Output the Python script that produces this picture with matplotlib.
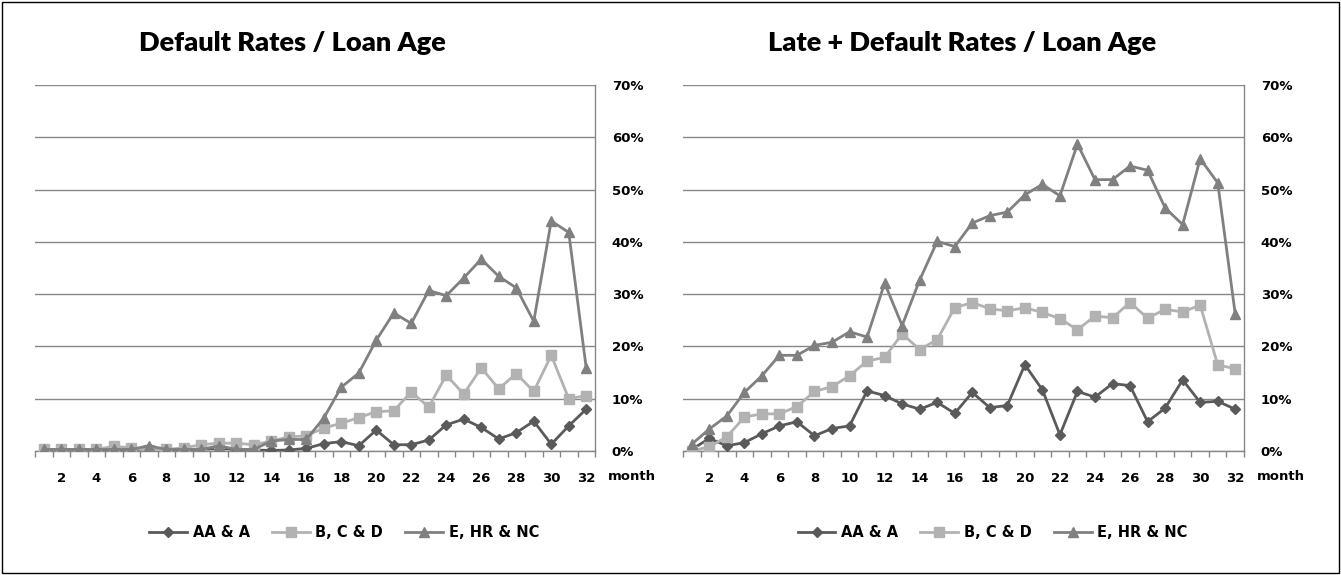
"""
Default rates and late + default rates by loan age, two panels side by side
"""

import matplotlib.pyplot as plt
from matplotlib.patches import Rectangle
from matplotlib.ticker import FuncFormatter, MultipleLocator

months = list(range(1, 33))
series_names = ['AA & A', 'B, C & D', 'E, HR & NC']

# default rates (%) per grade group
default_aa = [0.2, 0.2, 0.2, 0.2, 0.2, 0.2, 0.5, 0.2, 0.2, 0.3, 0.5, 0.3, 0.2, 0.1, 0.2, 0.5,
              1.4, 1.8, 1.0, 4.0, 1.2, 1.2, 2.1, 5.0, 6.1, 4.5, 2.3, 3.5, 5.7, 1.3, 4.8, 8.0]
default_bcd = [0.3, 0.3, 0.3, 0.3, 0.9, 0.6, 0.2, 0.3, 0.6, 1.2, 1.5, 1.5, 1.2, 1.9, 2.7, 2.9,
               4.4, 5.3, 6.4, 7.5, 7.7, 11.3, 8.4, 14.5, 10.9, 15.9, 11.9, 14.8, 11.4, 18.3, 10.0, 10.6]
default_ehr = [0.3, 0.3, 0.3, 0.3, 0.3, 0.3, 1.0, 0.3, 0.3, 0.3, 1.0, 0.3, 0.3, 1.9, 2.2, 2.2,
               6.3, 12.2, 14.9, 21.2, 26.4, 24.4, 30.7, 29.7, 33.1, 36.7, 33.4, 31.2, 24.8, 44.0, 41.8, 15.8]

# late + default rates (%)
late_aa = [0.3, 2.4, 1.0, 1.6, 3.3, 4.8, 5.6, 2.9, 4.3, 4.8, 11.5, 10.6, 9.0, 8.0, 9.3, 7.2,
           11.2, 8.3, 8.7, 16.5, 11.7, 3.1, 11.4, 10.3, 12.9, 12.5, 5.6, 8.2, 13.6, 9.3, 9.5, 8.0]
late_bcd = [0.0, 0.8, 2.7, 6.5, 7.1, 7.1, 8.5, 11.4, 12.3, 14.4, 17.2, 17.9, 22.4, 19.4, 21.3, 27.4,
            28.4, 27.2, 26.8, 27.4, 26.5, 25.3, 23.2, 25.8, 25.5, 28.4, 25.4, 27.1, 26.6, 27.9, 16.5, 15.7]
late_ehr = [1.3, 4.2, 6.7, 11.2, 14.4, 18.3, 18.3, 20.2, 20.8, 22.8, 21.8, 32.1, 24.0, 32.7, 40.1, 39.1,
            43.6, 45.0, 45.7, 49.0, 51.0, 48.8, 58.7, 51.9, 51.9, 54.5, 53.7, 46.5, 43.3, 55.9, 51.3, 26.2]

colors = ['#5a5a5a', '#b2b2b2', '#808080']
markers = ['D', 's', '^']
marker_sizes = [5.5, 7, 7.5]
grid_color = '#878787'


def draw_panel(ax, values, title, title_x, title_size):
    for vals, name, c, m, ms in zip(values, series_names, colors, markers, marker_sizes):
        ax.plot(months, [v / 100 for v in vals], color=c, lw=2, marker=m, ms=ms,
                mec=c, mfc=c, label=name, zorder=3)

    ax.set_xlim(0.5, 32.5)
    ax.set_ylim(0, 0.7)

    # y axis on the right, gridlines every 10%
    ax.yaxis.tick_right()
    ax.yaxis.set_major_locator(MultipleLocator(0.1))
    ax.yaxis.set_major_formatter(FuncFormatter(lambda v, p: f'{v * 100:.0f}%'))
    ax.tick_params(axis='y', length=0, pad=12, labelsize=9.5)
    ax.grid(axis='y', color=grid_color, lw=1)
    ax.set_axisbelow(True)

    # even month labels, tick marks on category boundaries
    ax.set_xticks(months[1::2])
    ax.set_xticklabels([str(m) for m in months[1::2]])
    ax.set_xticks([m + 0.5 for m in range(0, 33)], minor=True)
    ax.tick_params(axis='x', which='major', length=0, pad=15, labelsize=9.5)
    ax.tick_params(axis='x', which='minor', length=4, color=grid_color, width=1)

    for side in ['left', 'top']:
        ax.spines[side].set_visible(False)
    for side in ['right', 'bottom']:
        ax.spines[side].set_color(grid_color)
        ax.spines[side].set_linewidth(1)

    for lbl in ax.get_xticklabels() + ax.get_yticklabels():
        lbl.set_fontweight('bold')

    ax.annotate('month', xy=(1, 0), xycoords='axes fraction', xytext=(9.5, -18),
                textcoords='offset points', ha='left', va='center',
                fontsize=9.5, fontweight='bold')

    ax.legend(loc='center', bbox_to_anchor=(0.552, -0.224), ncol=3, frameon=False,
              handlelength=2.6, handletextpad=0.4, columnspacing=1.5,
              prop={'weight': 'bold', 'size': 10.5})

    fig.text(title_x, 1 - 43 / 575, title, ha='center', va='center',
             fontsize=title_size, fontweight='heavy', family='Lato')


fig = plt.figure(figsize=(13.41, 5.75), dpi=100)

ax1 = fig.add_axes([35 / 1341, 124 / 575, 560 / 1341, 366 / 575])
ax2 = fig.add_axes([683 / 1341, 124 / 575, 561 / 1341, 366 / 575])

draw_panel(ax1, [default_aa, default_bcd, default_ehr], 'Default Rates / Loan Age', 292 / 1341, 19.5)
draw_panel(ax2, [late_aa, late_bcd, late_ehr], 'Late + Default Rates / Loan Age', 962 / 1341, 19.5)

# thin frame round the whole picture
fig.patches.append(Rectangle((0.0015, 0.003), 0.997, 0.994, transform=fig.transFigure,
                             fill=False, edgecolor='black', lw=1))

plt.savefig('out.png', dpi=100)
